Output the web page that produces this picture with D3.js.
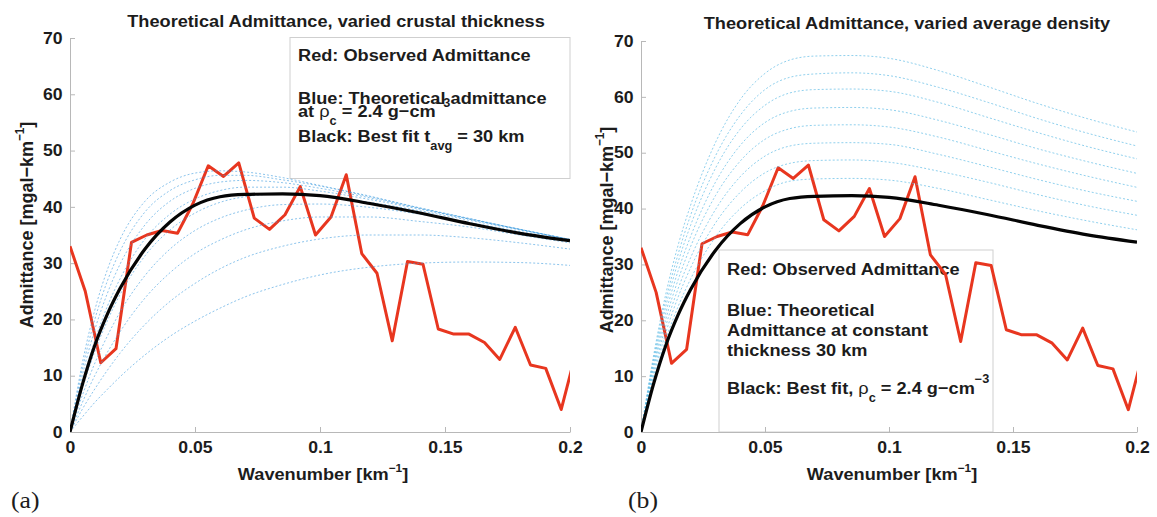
<!DOCTYPE html>
<html>
<head>
<meta charset="utf-8">
<script src="https://cdn.jsdelivr.net/npm/d3@7"></script>
<style>
  html, body { margin: 0; padding: 0; background: #fff; }
  svg { display: block; }
  text { font-family: "Liberation Sans", Arial, Helvetica, sans-serif; fill: #1c1c1c; }
</style>
</head>
<body>
<svg id="chart" width="1157" height="517"></svg>
<script>
// ---------------- data ----------------
// observed admittance spectrum (wavenumber in km^-1, admittance in mgal/km)
const obsWavenumber = [0.0000, 0.0061, 0.0123, 0.0184, 0.0246, 0.0307, 0.0368, 0.0430, 0.0491, 0.0553,
                       0.0614, 0.0675, 0.0737, 0.0798, 0.0860, 0.0921, 0.0982, 0.1044, 0.1105, 0.1167,
                       0.1228, 0.1289, 0.1350, 0.1412, 0.1473, 0.1535, 0.1596, 0.1658, 0.1719, 0.1781,
                       0.1842, 0.1903, 0.1965, 0.2026];
const obsAdmittance = [33.0, 25.0, 12.3, 14.8, 33.7, 35.0, 35.8, 35.3, 40.5, 47.3,
                       45.4, 47.8, 38.0, 36.0, 38.6, 43.6, 35.0, 38.2, 45.7, 31.7,
                       28.2, 16.2, 30.3, 29.8, 18.3, 17.4, 17.4, 15.9, 12.9, 18.6,
                       11.9, 11.3, 4.0, 14.5];

// wavenumbers at which the theoretical curves are sampled
const modelWavenumber = [0, 0.005, 0.01, 0.015, 0.02, 0.03, 0.04, 0.05, 0.06, 0.07,
                         0.085, 0.1, 0.12, 0.14, 0.16, 0.18, 0.2];

// best fit (rho_c = 2.4 g/cm3, t_avg = 30 km)
const bestFit = [0, 8.5, 15.5, 21.0, 25.5, 32.5, 37.3, 40.3, 41.8, 42.2,
                 42.3, 42.0, 40.6, 38.9, 37.0, 35.3, 34.0];

// (a) theoretical admittance for crustal thickness 10 ... 50 km
const admT10 = [0, 2.7, 5.3, 7.6, 9.8, 13.7, 17.0, 19.7, 22.0, 24.0, 26.2, 27.9, 29.3, 30.0, 30.2, 30.1, 29.6];
const admT15 = [0, 4.1, 7.7, 11.0, 14.0, 19.1, 23.2, 26.4, 29.0, 31.0, 33.0, 34.3, 35.0, 35.0, 34.5, 33.6, 32.5];
const admT20 = [0, 5.3, 10.1, 14.2, 17.8, 23.8, 28.3, 31.7, 34.1, 35.9, 37.5, 38.2, 38.2, 37.4, 36.4, 35.0, 33.6];
const admT25 = [0, 6.6, 12.3, 17.1, 21.3, 27.8, 32.5, 35.8, 38.0, 39.4, 40.4, 40.5, 39.9, 38.7, 37.2, 35.6, 34.0];
const admT30 = [0, 7.8, 14.4, 19.8, 24.4, 31.3, 35.9, 38.9, 40.8, 41.8, 42.3, 41.9, 40.8, 39.3, 37.6, 35.9, 34.2];
const admT35 = [0, 9.0, 16.4, 22.4, 27.2, 34.3, 38.7, 41.4, 42.9, 43.5, 43.5, 42.8, 41.3, 39.6, 37.8, 36.0, 34.2];
const admT40 = [0, 10.2, 18.3, 24.7, 29.8, 36.8, 41.0, 43.3, 44.4, 44.7, 44.3, 43.3, 41.6, 39.7, 37.8, 36.0, 34.2];
const admT45 = [0, 11.3, 20.1, 26.9, 32.1, 39.1, 42.9, 44.8, 45.6, 45.6, 44.8, 43.7, 41.8, 39.8, 37.9, 36.0, 34.2];
const admT50 = [0, 12.4, 21.8, 28.9, 34.2, 41.0, 44.4, 46.0, 46.4, 46.2, 45.2, 43.8, 41.9, 39.8, 37.9, 36.0, 34.2];

// (b) theoretical admittance for increasing average density at 30 km thickness
const admDens1 = [0, 9.1, 16.6, 22.5, 27.4, 34.9, 40.0, 43.2, 44.9, 45.3, 45.4, 45.1, 43.6, 41.6, 39.6, 37.8, 36.2];
const admDens2 = [0, 9.8, 17.8, 24.2, 29.4, 37.4, 42.9, 46.4, 48.1, 48.6, 48.7, 48.3, 46.7, 44.7, 42.5, 40.5, 38.8];
const admDens3 = [0, 10.4, 19.0, 25.7, 31.2, 39.8, 45.7, 49.4, 51.2, 51.7, 51.8, 51.5, 49.7, 47.5, 45.2, 43.1, 41.3];
const admDens4 = [0, 11.1, 20.2, 27.3, 33.2, 42.3, 48.5, 52.4, 54.3, 54.9, 55.0, 54.6, 52.8, 50.4, 48.0, 45.8, 43.8];
const admDens5 = [0, 11.7, 21.3, 28.9, 35.0, 44.7, 51.3, 55.4, 57.4, 58.0, 58.1, 57.7, 55.8, 53.3, 50.7, 48.4, 46.3];
const admDens6 = [0, 12.3, 22.5, 30.5, 37.0, 47.2, 54.2, 58.5, 60.7, 61.3, 61.4, 61.0, 59.0, 56.3, 53.6, 51.1, 48.9];
const admDens7 = [0, 12.9, 23.6, 31.9, 38.8, 49.4, 56.7, 61.3, 63.5, 64.1, 64.3, 63.8, 61.7, 59.0, 56.1, 53.5, 51.2];
const admDens8 = [0, 13.5, 24.7, 33.5, 40.6, 51.8, 59.5, 64.2, 66.6, 67.3, 67.4, 66.9, 64.7, 61.8, 58.8, 56.1, 53.7];

// axis ticks
const xTicks = [0, 0.05, 0.1, 0.15, 0.2];
const xTickLabels = ["0", "0.05", "0.1", "0.15", "0.2"];
const yTicks = [0, 10, 20, 30, 40, 50, 60, 70];

// ---------------- drawing ----------------
const SX = 1.07;               // horizontal widening of all lettering
const svg = d3.select("#chart");

// rich text: parts = [{t, dy (baseline shift, +down), f (size factor), w (weight)}]
function richText(parent, x, y, parts, size, opts = {}) {
  const g = parent.append("g")
    .attr("transform", `translate(${x},${y}) scale(${SX},1)` + (opts.rotate ? ` rotate(${opts.rotate})` : ""));
  const t = g.append("text")
    .attr("font-size", size)
    .attr("font-weight", opts.weight || "bold")
    .attr("text-anchor", opts.anchor || "start");
  if (opts.family) t.style("font-family", opts.family);
  let shift = 0;
  parts.forEach(p => {
    const s = typeof p === "string" ? { t: p } : p;
    const ts = t.append("tspan").text(s.t);
    const target = s.dy || 0;
    if (target !== shift) { ts.attr("dy", target - shift); shift = target; }
    if (s.f) ts.attr("font-size", size * s.f);
    if (s.w) ts.attr("font-weight", s.w);
  });
  return t;
}

const panels = [
  {
    key: "a", left: 70, right: 570, top: 38, bottom: 432,
    title: "Theoretical Admittance, varied crustal thickness", titleX: 336, titleY: 27,
    xLabelX: 323, yLabelX: 33, yLabelY: 225, tag: "(a)", tagX: 11,
    blue: [admT10, admT15, admT20, admT25, admT30, admT35, admT40, admT45, admT50],
    blueColor: "#3f9ddf", blueOpacity: 0.6,
    legend: { x: 290, y: 37.5, w: 280, h: 141 }
  },
  {
    key: "b", left: 641, right: 1137, top: 41, bottom: 432,
    title: "Theoretical Admittance, varied average density", titleX: 907, titleY: 29,
    xLabelX: 892, yLabelX: 613, yLabelY: 230, tag: "(b)", tagX: 628,
    blue: [admDens1, admDens2, admDens3, admDens4, admDens5, admDens6, admDens7, admDens8],
    blueColor: "#55b7e4", blueOpacity: 0.65,
    legend: { x: 719, y: 250, w: 274, h: 182 }
  }
];

panels.forEach(p => {
  const x = d3.scaleLinear().domain([0, 0.2]).range([p.left, p.right]);
  const y = d3.scaleLinear().domain([0, 70]).range([p.bottom, p.top]);
  const g = svg.append("g");

  const clipId = "clip-" + p.key;
  svg.append("clipPath").attr("id", clipId)
    .append("rect").attr("x", p.left).attr("y", p.top)
    .attr("width", p.right - p.left).attr("height", p.bottom - p.top);

  // legend box (under the curves)
  g.append("rect")
    .attr("x", p.legend.x).attr("y", p.legend.y)
    .attr("width", p.legend.w).attr("height", p.legend.h)
    .attr("fill", "#fff").attr("stroke", "#cfcfcf").attr("stroke-width", 1);

  // axes
  const yAxis = d3.axisLeft(y).tickValues(yTicks).tickSizeInner(-5).tickSizeOuter(0).tickPadding(7);
  const xAxis = d3.axisBottom(x).tickValues(xTicks).tickFormat((d, i) => xTickLabels[i])
    .tickSizeInner(-5).tickSizeOuter(0).tickPadding(9);

  const gy = g.append("g").attr("transform", `translate(${p.left},0)`).call(yAxis);
  const gx = g.append("g").attr("transform", `translate(0,${p.bottom})`).call(xAxis);
  [gx, gy].forEach(ax => {
    ax.select(".domain").attr("stroke", "#b8b8b8").attr("stroke-width", 1);
    ax.selectAll(".tick line").attr("stroke", "#b8b8b8");
    ax.selectAll(".tick text")
      .attr("font-size", 16.5).attr("font-weight", "bold")
      .attr("fill", "#1c1c1c")
      .style("font-family", '"Liberation Sans", Arial, sans-serif')
      .attr("transform", `scale(${SX},1)`);
  });

  // titles and axis labels
  richText(g, p.titleX, p.titleY, [p.title], 17, { anchor: "middle" });
  richText(g, p.xLabelX, 480, ["Wavenumber [km", { t: "\u22121", dy: -8, f: 0.65 }, { t: "]", dy: 0 }], 17, { anchor: "middle" });
  richText(g, p.yLabelX, p.yLabelY,
    ["Admittance [mgal\u2212km", { t: "\u22121", dy: -8, f: 0.65 }, { t: "]", dy: 0 }], 18,
    { anchor: "middle", rotate: -90 });
  richText(g, p.tagX, 508, [p.tag], 24, { weight: "normal", family: '"Liberation Serif", "Times New Roman", serif' });

  // legend text
  const L = p.legend;
  if (p.key === "a") {
    const lx = 298;
    richText(g, lx, 61, ["Red: Observed Admittance"], 17);
    richText(g, lx, 104, ["Blue: Theoretical admittance"], 17);
    richText(g, lx, 117, ["at ", { t: "\u03c1", w: "normal" }, { t: "c", dy: 8, f: 0.7 },
      { t: " = 2.4 g\u2212cm", dy: 0 }, { t: "\u22123", dy: -10, f: 0.7 }], 17);
    richText(g, lx, 142, ["Black: Best fit t", { t: "avg", dy: 8, f: 0.7 }, { t: " = 30 km", dy: 0 }], 17);
  } else {
    const lx = 727;
    richText(g, lx, 275, ["Red: Observed Admittance"], 17);
    richText(g, lx, 316, ["Blue: Theoretical"], 17);
    richText(g, lx, 336, ["Admittance at constant"], 17);
    richText(g, lx, 356, ["thickness 30 km"], 17);
    richText(g, lx, 394, ["Black: Best fit, ", { t: "\u03c1", w: "normal" }, { t: "c", dy: 8, f: 0.7 },
      { t: " = 2.4 g\u2212cm", dy: 0 }, { t: "\u22123", dy: -11, f: 0.7 }], 17);
  }

  const plot = g.append("g").attr("clip-path", `url(#${clipId})`);

  // observed admittance (red)
  const obsLine = d3.line().x((d, i) => x(obsWavenumber[i])).y(d => y(d));
  plot.append("path").datum(obsAdmittance)
    .attr("d", obsLine)
    .attr("fill", "none").attr("stroke", "#e8361f").attr("stroke-width", 3)
    .attr("stroke-linejoin", "round");

  // theoretical curves (blue, dotted)
  const modelLine = d3.line().curve(d3.curveMonotoneX)
    .x((d, i) => x(modelWavenumber[i])).y(d => y(d));
  plot.selectAll(".blue").data(p.blue).join("path")
    .attr("class", "blue")
    .attr("d", modelLine)
    .attr("fill", "none").attr("stroke", p.blueColor).attr("stroke-width", 1)
    .attr("stroke-opacity", p.blueOpacity)
    .attr("stroke-dasharray", "2,2");

  // best fit (black)
  plot.append("path").datum(bestFit)
    .attr("d", modelLine)
    .attr("fill", "none").attr("stroke", "#050505").attr("stroke-width", 3.2)
    .attr("stroke-linejoin", "round");
});
</script>
</body>
</html>
